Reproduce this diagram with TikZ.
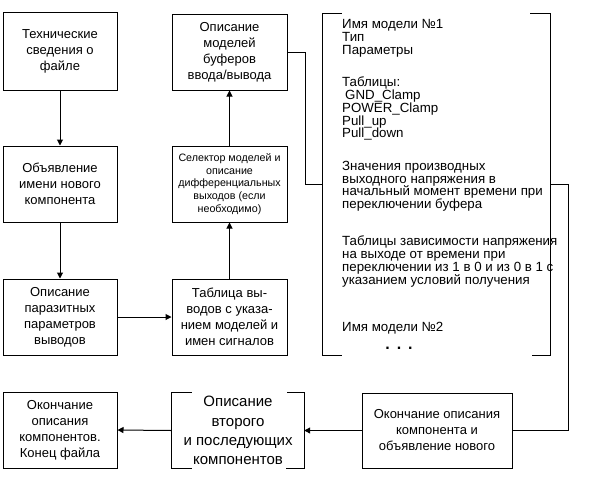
\documentclass[tikz,border=0pt]{standalone}
\usepackage{fontspec}
\setmainfont{Liberation Sans}
\usetikzlibrary{arrows.meta}
\tikzset{
  box/.style={draw, line width=1pt, rectangle, inner sep=0pt, align=center,
    font=\fontsize{13}{16}\selectfont},
  plain/.style={rectangle, inner sep=0pt, align=center},
  spectxt/.style={anchor=west, inner sep=0pt, text height=9pt, text depth=3pt,
    font=\fontsize{13.3}{13}\selectfont},
  conn/.style={line width=1pt},
  arr/.style={line width=1pt, -{Triangle[length=6pt,width=6pt]}},
}
\begin{document}
\begin{tikzpicture}[x=1pt,y=-1pt]
\useasboundingbox (0,0) rectangle (596,483);
\fill[white] (0,0) rectangle (596,483);

\node[box, minimum width=114pt, minimum height=78pt] (A) at (60,51)
  {Технические\\сведения о\\файле};
\node[box, minimum width=114pt, minimum height=76pt] (B) at (60,184)
  {Объявление\\имени нового\\компонента};
\node[box, minimum width=114pt, minimum height=76pt] (C) at (60,317)
  {Описание\\паразитных\\параметров\\выводов};
\node[box, minimum width=115pt, minimum height=76pt] (D) at (229.5,317)
  {Таблица вы-\\водов с указа-\\нием моделей и\\имен сигналов};
\node[box, minimum width=115pt, minimum height=76pt,
  font=\fontsize{10.7}{12.7}\selectfont] (E) at (229.5,184)
  {Селектор моделей и\\описание\\дифференциальных\\ выходов (если\\необходимо)};
\node[box, minimum width=115pt, minimum height=76pt] (F) at (229.5,52)
  {Описание\\моделей\\буферов\\ввода/вывода};
\node[box, minimum width=114pt, minimum height=76pt] (I) at (60,430)
  {Окончание\\описания\\компонентов.\\Конец файла};
\node[plain, minimum width=132pt, minimum height=75pt,
  font=\fontsize{15}{19.3}\selectfont] (H) at (238,430.5)
  {Описание\\второго\\и последующих\\ компонентов};
\node[box, minimum width=150pt, minimum height=75pt] (G) at (437,430.5)
  {Окончание описания\\компонента и\\объявление нового};
\node[plain, minimum width=227pt, minimum height=341pt] (S) at (436.5,184.5) {};

% brackets of S
\draw[conn] ([xshift=19pt]S.north west) -- (S.north west) -- (S.south west) -- ([xshift=19pt]S.south west);
\draw[conn] ([xshift=-20pt]S.north east) -- (S.north east) -- (S.south east) -- ([xshift=-18pt]S.south east);
% brackets of H
\draw[conn] ([xshift=20pt]H.north west) -- (H.north west) -- (H.south west) -- ([xshift=20pt]H.south west);
\draw[conn] ([xshift=-17pt]H.north east) -- (H.north east) -- (H.south east) -- ([xshift=-18pt]H.south east);

% text of S
\node[spectxt] (s1) at (342,25.5) {Имя модели №1};
\node[spectxt] (s2) at (342,38.5) {Тип};
\node[spectxt] (s3) at (342,51.5) {Параметры};
\node[spectxt] (s4) at (342,83.5) {Таблицы:};
\node[spectxt] (s5) at (345,96.5) {GND\_Clamp};
\node[spectxt] (s6) at (342,109.5) {POWER\_Clamp};
\node[spectxt] (s7) at (342,122) {Pull\_up};
\node[spectxt] (s8) at (342,134.5) {Pull\_down};
\node[spectxt] (s9) at (342,167.5) {Значения производных};
\node[spectxt] (s10) at (342,180) {выходного напряжения в};
\node[spectxt] (s11) at (342,192.5) {начальный момент времени при};
\node[spectxt] (s12) at (342,205.5) {переключении буфера};
\node[spectxt] (s13) at (342,242.5) {Таблицы зависимости напряжения};
\node[spectxt] (s14) at (342,255.5) {на выходе от времени при};
\node[spectxt] (s15) at (342,268.5) {переключении из 1 в 0 и из 0 в 1 с};
\node[spectxt] (s16) at (342,281.5) {указанием условий получения};
\node[spectxt] (s17) at (342,328.5) {Имя модели №2};
\node[anchor=base, inner sep=0pt, text height=4pt, text depth=0pt,
  font=\fontsize{16}{16}\selectfont\bfseries] (dots) at (399,349)
  {.\hspace{7pt}.\hspace{7pt}.};

% connectors
\draw[arr] (A.south) -- (B.north);
\draw[arr] (B.south) -- (C.north);
\draw[arr] (C.east) -- (D.west);
\draw[arr] (D.north) -- (E.south);
\draw[arr] (E.north) -- (F.south);
\draw[conn] (F.east) -- ++(18,0) |- (S.west);
\draw[conn] (S.east) -- ++(18,0) |- (G.east);
\draw[arr] (G.west) -- (H.east);
\draw[arr] (H.west) -- (I.east);
\end{tikzpicture}
\end{document}
